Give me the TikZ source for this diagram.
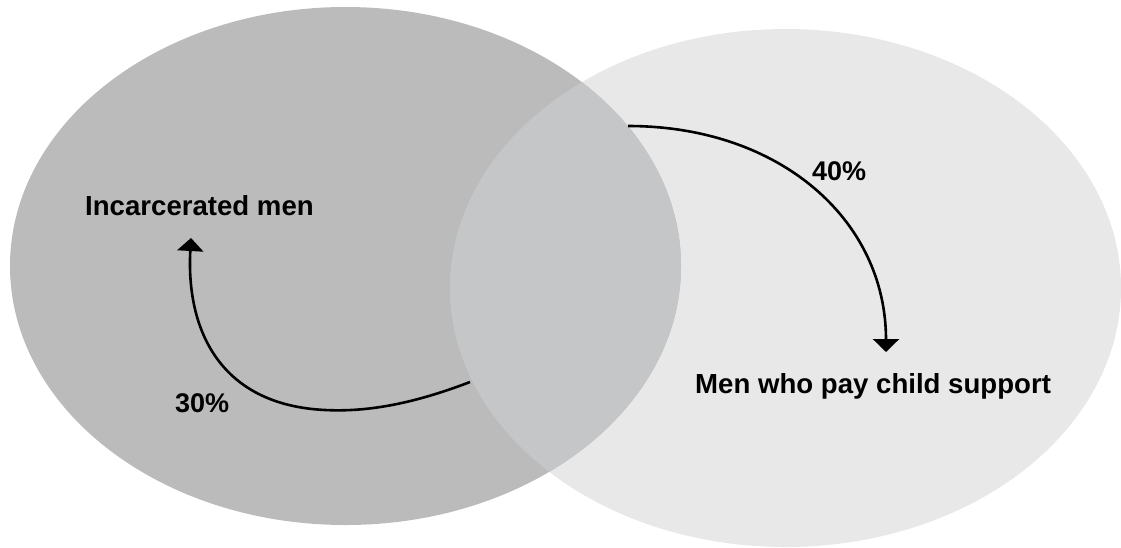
\documentclass[tikz,border=0pt]{standalone}
\usepackage{fontspec}
\setmainfont{Liberation Sans}
\usetikzlibrary{arrows.meta}
\definecolor{leftgray}{HTML}{BBBBBB}
\definecolor{rightgray}{HTML}{E7E8E7}
\definecolor{overgray}{HTML}{C5C6C8}
\tikzset{
  lbl/.style={font=\bfseries\fontsize{27.6}{32}\selectfont, inner sep=0pt, anchor=base west},
  pct/.style={font=\bfseries\fontsize{27}{32}\selectfont, inner sep=0pt, anchor=base west},
  flow/.style={line width=2.6pt, -{Triangle[width=26pt,length=13pt]}}
}
\begin{document}
\begin{tikzpicture}[x=1pt,y=-1pt]
\useasboundingbox (0,0) rectangle (1121,547);
\fill[rightgray] (785.5,288) ellipse [x radius=335.5, y radius=259];
\fill[leftgray] (345.5,266) ellipse [x radius=335.5, y radius=259];
\begin{scope}
  \clip (345.5,266) ellipse [x radius=335.5, y radius=259];
  \fill[overgray] (785.5,288) ellipse [x radius=335.5, y radius=259];
\end{scope}
\node[lbl] (inc) at (85,215) {Incarcerated men};
\node[lbl] (sup) at (695,393) {Men who pay child support};
\node[pct] (p30) at (175,412) {30\%};
\node[pct] (p40) at (812,180) {40\%};
\coordinate (a1) at (470,382);
\coordinate (m1) at (325,410);
\coordinate (t1) at (191,238);
\coordinate (a2) at (628,126);
\coordinate (t2) at (886,352);
\draw[flow] (a1) .. controls (410,405) and (365,412) .. (m1)
  .. controls (220,405) and (186,330) .. (t1);
\draw[flow] (a2) .. controls (780,126) and (886,220) .. (t2);
\end{tikzpicture}
\end{document}
